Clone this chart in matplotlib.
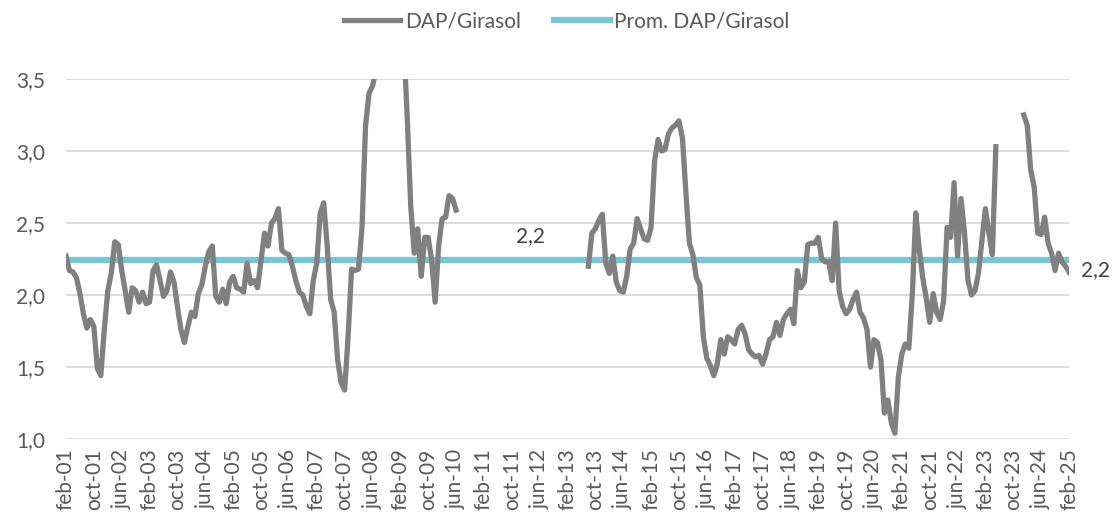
import numpy as np
import matplotlib.pyplot as plt
from matplotlib.ticker import FuncFormatter

# meses en castellano, la serie arranca en feb-01 y termina en feb-25
meses = ['ene', 'feb', 'mar', 'abr', 'may', 'jun', 'jul', 'ago', 'sep', 'oct', 'nov', 'dic']
fechas = [f"{meses[(i + 1) % 12]}-{1 + (i + 1) // 12:02d}" for i in range(289)]

# relacion DAP/Girasol, una fila por anio (feb..ene), None = sin dato
dap_girasol = [
    2.27, 2.17, 2.16, 2.12, 2.01, 1.87, 1.77, 1.83, 1.78, 1.49, 1.44, 1.76,
    2.03, 2.15, 2.37, 2.35, 2.17, 2.03, 1.88, 2.05, 2.03, 1.95, 2.02, 1.94,
    1.95, 2.17, 2.21, 2.10, 1.99, 2.03, 2.16, 2.09, 1.92, 1.76, 1.67, 1.78,
    1.88, 1.85, 2.01, 2.07, 2.20, 2.30, 2.34, 1.99, 1.95, 2.04, 1.94, 2.09,
    2.13, 2.05, 2.04, 2.02, 2.22, 2.08, 2.10, 2.05, 2.24, 2.43, 2.34, 2.50,
    2.53, 2.60, 2.31, 2.29, 2.28, 2.20, 2.10, 2.02, 2.00, 1.92, 1.87, 2.10,
    2.22, 2.57, 2.64, 2.34, 1.97, 1.88, 1.55, 1.39, 1.34, 1.71, 2.18, 2.17,
    2.18, 2.47, 3.17, 3.40, 3.45, 3.56, 4.00, 4.30, 4.50, 4.60, 4.50, 4.30,
    4.00, 3.75, 3.22, 2.61, 2.29, 2.46, 2.13, 2.40, 2.40, 2.24, 1.95, 2.34,
    2.53, 2.54, 2.69, 2.67, 2.59, None, None, None, None, None, None, None,
    None, None, None, None, None, None, None, None, None, None, None, None,
    None, None, None, None, None, None, None, None, None, None, None, None,
    None, None, None, None, None, None, 2.20, 2.43, 2.46, 2.52, 2.56, 2.22,
    2.15, 2.27, 2.09, 2.03, 2.02, 2.13, 2.32, 2.36, 2.53, 2.46, 2.39, 2.38,
    2.47, 2.93, 3.08, 3.00, 3.01, 3.12, 3.16, 3.18, 3.21, 3.09, 2.71, 2.36,
    2.28, 2.12, 2.07, 1.71, 1.56, 1.51, 1.44, 1.52, 1.69, 1.59, 1.71, 1.69,
    1.66, 1.76, 1.79, 1.73, 1.62, 1.59, 1.57, 1.58, 1.52, 1.59, 1.69, 1.71,
    1.81, 1.72, 1.83, 1.87, 1.90, 1.80, 2.17, 2.05, 2.09, 2.35, 2.36, 2.36,
    2.40, 2.25, 2.23, 2.23, 2.10, 2.50, 2.03, 1.92, 1.87, 1.90, 1.97, 2.02,
    1.88, 1.84, 1.76, 1.50, 1.69, 1.67, 1.55, 1.18, 1.27, 1.11, 1.04, 1.43,
    1.59, 1.66, 1.63, 2.00, 2.57, 2.32, 2.12, 1.98, 1.81, 2.01, 1.88, 1.83,
    1.96, 2.47, 2.40, 2.78, 2.27, 2.67, 2.43, 2.10, 2.00, 2.03, 2.15, 2.38,
    2.60, 2.43, 2.28, 3.03, None, None, None, None, None, None, None, 3.25,
    3.18, 2.87, 2.75, 2.43, 2.42, 2.54, 2.36, 2.29, 2.17, 2.29, 2.23, 2.20,
    2.16,
]
promedio = 2.24
ultimo_label = "2,2"

gris = '#808080'
celeste = '#78C6D3'
texto = '#595959'

plt.rcParams['font.family'] = ['Lato', 'DejaVu Sans']

x = np.arange(len(fechas))
y = np.array([np.nan if v is None else v for v in dap_girasol])

fig = plt.figure(figsize=(11.13, 5.21), dpi=100)
ax = fig.add_axes([66 / 1113, 1 - 439 / 521, (1069 - 66) / 1113, (439 - 79) / 521])

ax.plot(x, y, color=gris, lw=3.8, label='DAP/Girasol', solid_joinstyle='round', zorder=3)
ax.plot(x, [promedio] * len(x), color=celeste, lw=4.5, label='Prom. DAP/Girasol', zorder=2)

ax.set_xlim(0, len(x) - 1)
ax.set_ylim(1.0, 3.5)
ax.set_yticks(np.arange(1.0, 3.51, 0.5))
ax.yaxis.set_major_formatter(FuncFormatter(lambda v, p: f"{v:.1f}".replace('.', ',')))
ax.set_xticks(x[::8])
ax.set_xticklabels(fechas[::8], rotation=90)
ax.grid(axis='y', color='#D9D9D9', lw=1.3, zorder=0)
ax.tick_params(length=0, labelsize=15, colors=texto)
ax.tick_params(axis='y', pad=15)
ax.tick_params(axis='x', pad=7)
for s in ax.spines.values():
    s.set_visible(False)

ax.text(133.5, 2.41, "2,2", fontsize=15, color='#404040', ha='center', va='center')
ax.text(291.5, 2.17, ultimo_label, fontsize=15, color='#404040', ha='left', va='center', clip_on=False)

fig.legend(loc='center', bbox_to_anchor=(567 / 1113, 1 - 21 / 521), ncol=2, frameon=False,
           fontsize=15, labelcolor=texto, handlelength=2.7, handletextpad=0.2, columnspacing=1.6)

fig.savefig('out.png', dpi=100)
